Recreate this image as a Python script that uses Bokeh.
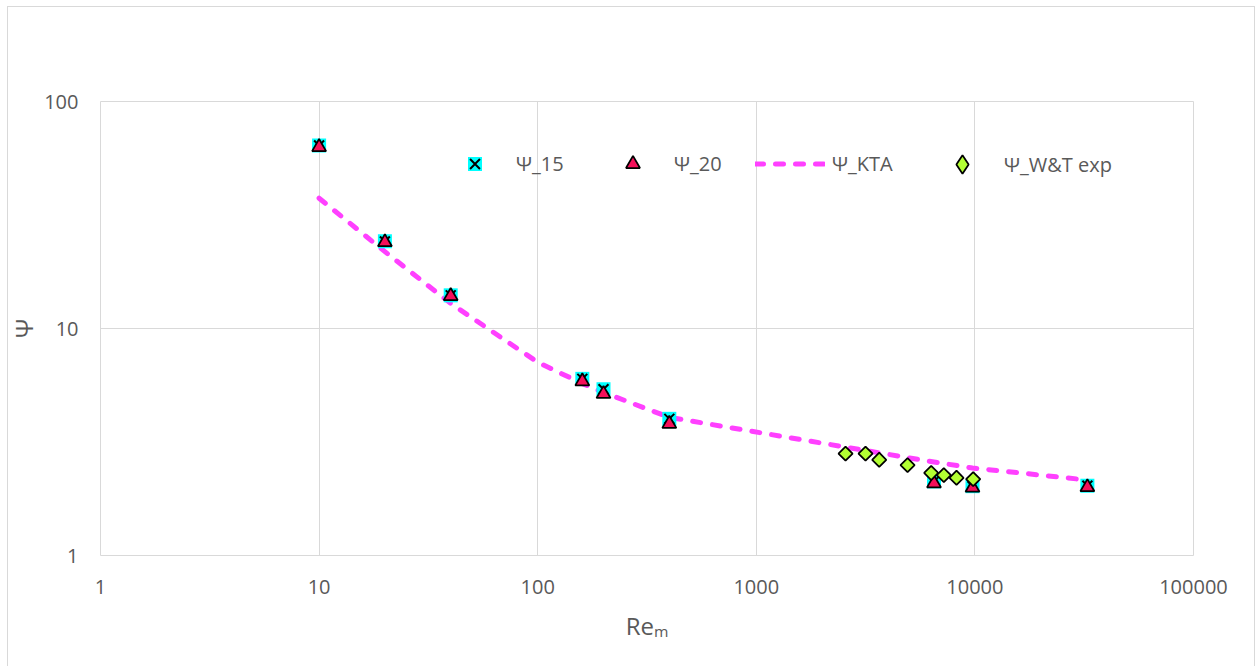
from bokeh.plotting import figure
from bokeh.models import (Range1d, FixedTicker, PrintfTickFormatter, Legend, LegendItem,
                          InlineStyleSheet)
from bokeh.embed import file_html
from bokeh.resources import INLINE
import math

# Modified Reynolds number and pressure-drop coefficients
re_psi = [10, 20, 40, 160, 200, 400, 6500, 9750, 32700]
psi_15 = [64.0, 24.2, 14.0, 6.0, 5.4, 4.0, 2.12, 2.02, 2.03]
psi_20 = [63.0, 24.0, 13.9, 5.85, 5.15, 3.8, 2.08, 1.99, 2.0]

re_kta = [10, 20, 40, 100, 160, 200, 400, 6500, 9750, 32700]
psi_kta = [37.5, 21.8, 12.9, 7.1, 5.72, 5.23, 4.06, 2.58, 2.43, 2.15]

re_wt = [2560, 3160, 3650, 4920, 6310, 7210, 8240, 9820]
psi_wt = [2.81, 2.81, 2.64, 2.50, 2.31, 2.26, 2.20, 2.17]

x_ticks = [1, 10, 100, 1000, 10000, 100000]
y_ticks = [1, 10, 100]

FONT = "Open Sans"
TXT = "#595959"
GRID = "#D9D9D9"

# Thin frame around the whole chart area
frame_css = InlineStyleSheet(css="""
:host { position: relative; }
:host::after {
  content: ""; position: absolute; left: 7px; top: 6px; right: 0px; bottom: 0px;
  border-style: solid; border-color: #D9D9D9; border-width: 1px 1px 0 1px;
  pointer-events: none;
}
""")

p = figure(width=1255, height=666, x_axis_type="log", y_axis_type="log",
           x_range=Range1d(1, 100000), y_range=Range1d(1, 100),
           output_backend="svg", toolbar_location=None,
           min_border_left=100, min_border_right=62,
           min_border_top=101, min_border_bottom=111,
           stylesheets=[frame_css])

p.background_fill_color = "white"
p.border_fill_color = "white"
p.outline_line_color = GRID
p.outline_line_width = 1

for ax, ticks in ((p.xaxis[0], x_ticks), (p.yaxis[0], y_ticks)):
    ax.ticker = FixedTicker(ticks=ticks, minor_ticks=[])
    ax.formatter = PrintfTickFormatter(format="%d")
    ax.axis_line_color = None
    ax.major_tick_line_color = None
    ax.minor_tick_line_color = None
    ax.major_tick_out = 0
    ax.major_tick_in = 0
    ax.minor_tick_out = 0
    ax.major_label_text_font = FONT
    ax.major_label_text_font_size = "20px"
    ax.major_label_text_color = TXT
    ax.axis_label_text_font = FONT
    ax.axis_label_text_font_size = "24px"
    ax.axis_label_text_font_style = "normal"
    ax.axis_label_text_color = TXT

p.xaxis.major_label_standoff = 24
p.xaxis.axis_label = "Reₘ"
p.xaxis.axis_label_standoff = 12
p.yaxis.major_label_standoff = 22
p.yaxis.axis_label = "Ψ"
p.yaxis.axis_label_standoff = 1

p.xgrid.grid_line_color = GRID
p.ygrid.grid_line_color = GRID
p.xgrid.ticker = FixedTicker(ticks=x_ticks, minor_ticks=[])
p.ygrid.ticker = FixedTicker(ticks=y_ticks, minor_ticks=[])

# KTA correlation (dashed curve)
r_kta = p.line(re_kta, psi_kta, line_color="#FF40FF", line_width=5,
               line_dash="8 12", line_cap="round", line_join="round")

# Psi_15: cyan square with a black cross
r15a = p.scatter(re_psi, psi_15, marker="square", size=14,
                 fill_color="#00FFFF", line_color=None)
r15b = p.scatter(re_psi, psi_15, marker="x", size=14,
                 line_color="black", line_width=2)

# Psi_20: red triangles
r20 = p.scatter(re_psi, psi_20, marker="triangle", size=14,
                fill_color="#F5105A", line_color="black", line_width=1.75)

# Experimental values (squares turned on edge)
rwt = p.scatter(re_wt, psi_wt, marker="square", size=10, angle=math.pi / 4,
                fill_color="#B3FF33", line_color="black", line_width=1.75)
# Hidden twin of the experimental series, used only for its legend swatch
rwt_key = p.scatter(re_wt[:1], psi_wt[:1], marker="diamond", size=10,
                    fill_color="#B3FF33", line_color="black", line_width=1.75,
                    visible=False)

# One legend per entry, laid out in a row near the top of the frame
entries = [
    ("Ψ_15", [r15a, r15b], 357, 35, 35, 24, 374),
    ("Ψ_20", [r20], 515, 35, 35, 24, 374),
    ("Ψ_KTA", [r_kta], 655, 70, 35, 7, 374),
    ("Ψ_W&T exp", [rwt_key], 839, 46, 46, 19, 368),
]
for label, rends, xpos, gw, gh, standoff, ypos in entries:
    lg = Legend(items=[LegendItem(label=label, renderers=rends)],
                location=(xpos, ypos), orientation="horizontal",
                padding=0, margin=0, spacing=0,
                glyph_width=gw, glyph_height=gh, label_height=20,
                label_standoff=standoff,
                label_text_font=FONT, label_text_font_size="20px",
                label_text_color=TXT,
                border_line_color=None, background_fill_alpha=0)
    p.add_layout(lg)

open("out.html", "w").write(file_html(p, INLINE))
